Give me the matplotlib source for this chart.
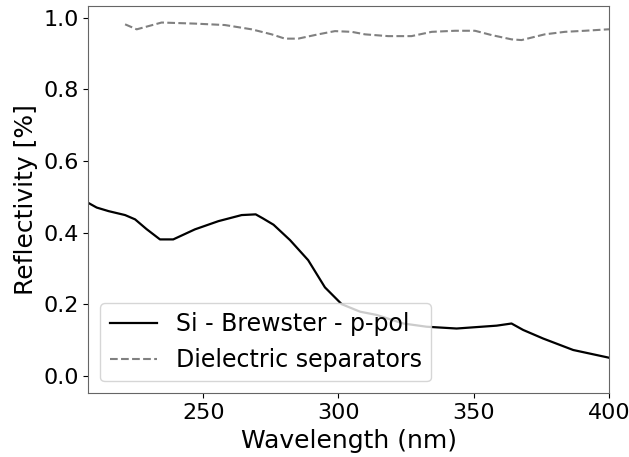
import numpy as np
import matplotlib
matplotlib.use('Agg')
import matplotlib.pyplot as plt

# Si - Brewster - p-pol
wl_si = [207.5, 210.6, 215.0, 221.1, 224.8, 229.0, 234.0, 238.9, 246.9, 255.6,
         264.2, 269.4, 272.0, 276.0, 282.1, 288.8, 295.0, 301.2, 308.0, 314.1,
         324.0, 332.6, 343.7, 358.5, 364.0, 368.3, 375.7, 386.8, 399.7, 405.0]
refl_si = [0.483, 0.470, 0.460, 0.449, 0.437, 0.410, 0.381, 0.381, 0.409, 0.432,
           0.449, 0.451, 0.440, 0.422, 0.379, 0.323, 0.247, 0.200, 0.179, 0.170,
           0.146, 0.137, 0.132, 0.140, 0.146, 0.128, 0.104, 0.072, 0.051, 0.040]

# Dielectric separators
wl_diel = [221.1, 225.4, 234.6, 246.9, 258.0, 267.9, 275.3, 280.2, 285.1, 292.5,
           298.7, 304.9, 309.8, 318.4, 327.0, 334.5, 343.1, 350.5, 356.6, 364.0,
           367.7, 376.3, 383.7, 391.1, 399.7, 405.0]
refl_diel = [0.982, 0.968, 0.987, 0.984, 0.980, 0.968, 0.954, 0.942, 0.942, 0.954,
             0.963, 0.961, 0.954, 0.949, 0.949, 0.961, 0.964, 0.964, 0.952, 0.940,
             0.938, 0.954, 0.961, 0.964, 0.968, 0.968]

fig = plt.figure(figsize=(6.29, 4.57), dpi=100)
ax = fig.add_axes([0.1404, 0.1394, 0.968 - 0.1404, 0.9875 - 0.1394])

ax.plot(wl_si, refl_si, color='black', linewidth=1.6, label='Si - Brewster - p-pol')
ax.plot(wl_diel, refl_diel, color='gray', linestyle='--', linewidth=1.5,
        label='Dielectric separators')

ax.set_xlim(207.5, 400)
ax.set_ylim(-0.049, 1.034)
ax.set_xticks([250, 300, 350, 400])
ax.set_yticks([0.0, 0.2, 0.4, 0.6, 0.8, 1.0])
ax.tick_params(labelsize=16)
for sp in ax.spines.values():
    sp.set_color('#666666')

ax.set_xlabel('Wavelength (nm)', fontsize=18)
ax.set_ylabel('Reflectivity [%]', fontsize=18)
ax.legend(loc='lower left', fontsize=17)

fig.savefig('out.png', dpi=100)
